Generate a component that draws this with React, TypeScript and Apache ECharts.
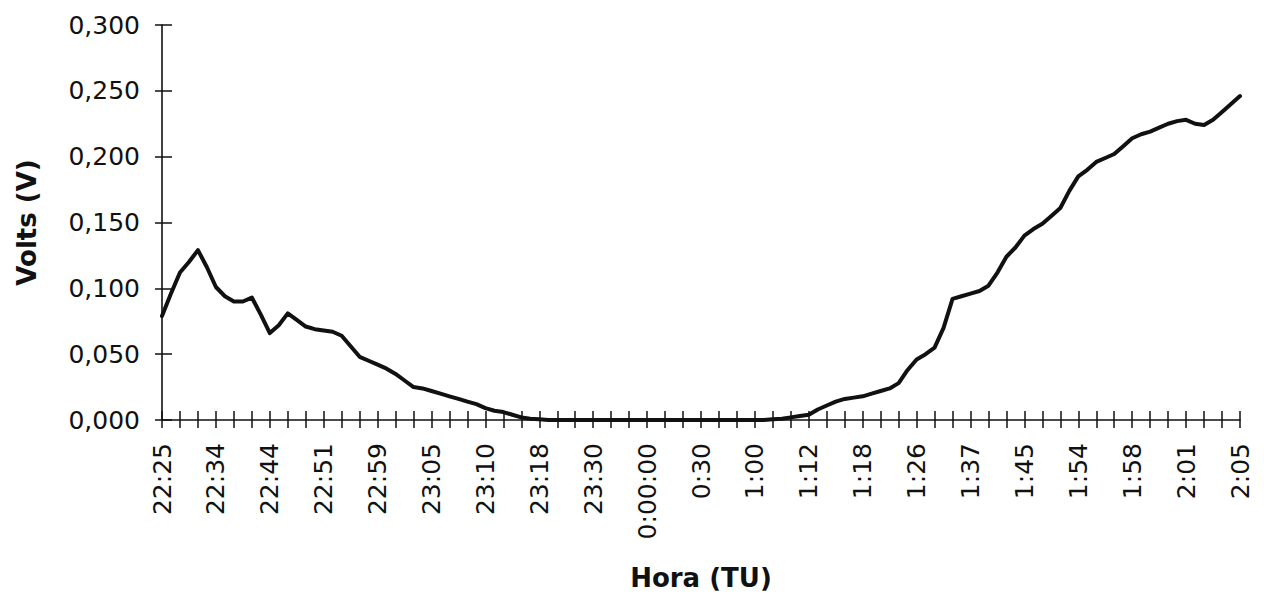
import React, { useEffect, useRef } from "react";
import * as echarts from "echarts";

// Category labels shown under every third tick
const xLabels = [
  "22:25", "22:34", "22:44", "22:51", "22:59", "23:05", "23:10", "23:18", "23:30", "0:00:00",
  "0:30", "1:00", "1:12", "1:18", "1:26", "1:37", "1:45", "1:54", "1:58", "2:01", "2:05",
];
const TICKS_PER_LABEL = 3;
const SAMPLE_STEP = 0.5; // one value every half tick

// Volts read every half tick, from 22:25 to 2:05
const volts = [
  0.079, 0.096, 0.112, 0.120, 0.129, 0.116, 0.101, 0.094, 0.090, 0.090, 0.093,
  0.080, 0.066, 0.072, 0.081, 0.076, 0.071, 0.069, 0.068, 0.067, 0.064,
  0.056, 0.048, 0.045, 0.042, 0.039, 0.035, 0.030, 0.025, 0.024, 0.022,
  0.020, 0.018, 0.016, 0.014, 0.012, 0.009, 0.007, 0.006, 0.004, 0.002,
  0.001, 0.0005, 0, 0, 0, 0, 0, 0, 0, 0,
  0, 0, 0, 0, 0, 0, 0, 0, 0, 0,
  0, 0, 0, 0, 0, 0, 0, 0.0005, 0.001, 0.002,
  0.003, 0.004, 0.008, 0.011, 0.014, 0.016, 0.017, 0.018, 0.020, 0.022,
  0.024, 0.028, 0.038, 0.046, 0.050, 0.055, 0.070, 0.092, 0.094, 0.096,
  0.098, 0.102, 0.112, 0.124, 0.131, 0.140, 0.145, 0.149, 0.155, 0.161,
  0.174, 0.185, 0.190, 0.196, 0.199, 0.202, 0.208, 0.214, 0.217, 0.219,
  0.222, 0.225, 0.227, 0.228, 0.225, 0.224, 0.228, 0.234, 0.240, 0.246,
];

const yTicks = [0, 0.05, 0.1, 0.15, 0.2, 0.25, 0.3];
const yTickLabels = ["0,000", "0,050", "0,100", "0,150", "0,200", "0,250", "0,300"];

const FONT = "DejaVu Sans";
const INK = "#111111";

export default function App() {
  const ref = useRef<HTMLDivElement>(null);

  useEffect(() => {
    document.body.style.margin = "0";
    if (!ref.current) return;
    const chart = echarts.init(ref.current, undefined, { renderer: "svg" });
    const xMax = (xLabels.length - 1) * TICKS_PER_LABEL;
    const yMin = yTicks[0];
    const yMax = yTicks[yTicks.length - 1];
    const yInterval = yTicks[1] - yTicks[0];

    const xLabelFmt = (v: number) => {
      const k = Math.round(v);
      if (k % TICKS_PER_LABEL !== 0) return "";
      return xLabels[k / TICKS_PER_LABEL] ?? "";
    };
    const yLabelFmt = (v: number) => {
      const idx = yTicks.findIndex((t) => Math.abs(t - v) < 1e-9);
      return idx >= 0 ? yTickLabels[idx] : "";
    };

    chart.setOption({
      animation: false,
      backgroundColor: "#ffffff",
      grid: { left: 162, right: 24, top: 25, bottom: 178, containLabel: false },
      xAxis: [
        {
          type: "value",
          min: 0,
          max: xMax,
          interval: 1,
          position: "bottom",
          splitLine: { show: false },
          axisLine: { show: true, onZero: false, lineStyle: { color: INK, width: 1.6 } },
          axisTick: { show: true, inside: false, length: 8, lineStyle: { color: INK, width: 1.5 } },
          axisLabel: {
            show: true,
            rotate: 90,
            margin: 23,
            color: INK,
            fontFamily: FONT,
            fontSize: 25,
            formatter: xLabelFmt,
          },
          name: "Hora (TU)",
          nameLocation: "middle",
          nameGap: 145,
          nameTextStyle: { color: INK, fontFamily: FONT, fontSize: 26, fontWeight: "bold" },
        },
        {
          type: "value",
          min: 0,
          max: xMax,
          interval: 1,
          position: "bottom",
          offset: 0,
          splitLine: { show: false },
          axisLine: { show: false },
          axisTick: { show: true, inside: true, length: 9, lineStyle: { color: INK, width: 1.5 } },
          axisLabel: { show: false },
        },
      ],
      yAxis: [
        {
          type: "value",
          min: yMin,
          max: yMax,
          interval: yInterval,
          position: "left",
          splitLine: { show: false },
          axisLine: { show: true, onZero: false, lineStyle: { color: INK, width: 1.6 } },
          axisTick: { show: true, inside: false, length: 7, lineStyle: { color: INK, width: 1.5 } },
          axisLabel: {
            show: true,
            margin: 22,
            color: INK,
            fontFamily: FONT,
            fontSize: 25,
            formatter: yLabelFmt,
          },
          name: "Volts (V)",
          nameLocation: "middle",
          nameGap: 122,
          nameTextStyle: { color: INK, fontFamily: FONT, fontSize: 26, fontWeight: "bold" },
        },
        {
          type: "value",
          min: yMin,
          max: yMax,
          interval: yInterval,
          position: "left",
          offset: 0,
          splitLine: { show: false },
          axisLine: { show: false },
          axisTick: { show: true, inside: true, length: 10, lineStyle: { color: INK, width: 1.5 } },
          axisLabel: { show: false },
        },
      ],
      series: [
        {
          type: "line",
          xAxisIndex: 0,
          yAxisIndex: 0,
          data: volts.map((v, i) => [i * SAMPLE_STEP, v]),
          showSymbol: false,
          symbol: "none",
          smooth: false,
          lineStyle: { color: INK, width: 4, join: "round", cap: "round" },
          z: 3,
        },
      ],
    });
    return () => chart.dispose();
  }, []);

  return <div ref={ref} style={{ width: 1264, height: 598 }} />;
}
